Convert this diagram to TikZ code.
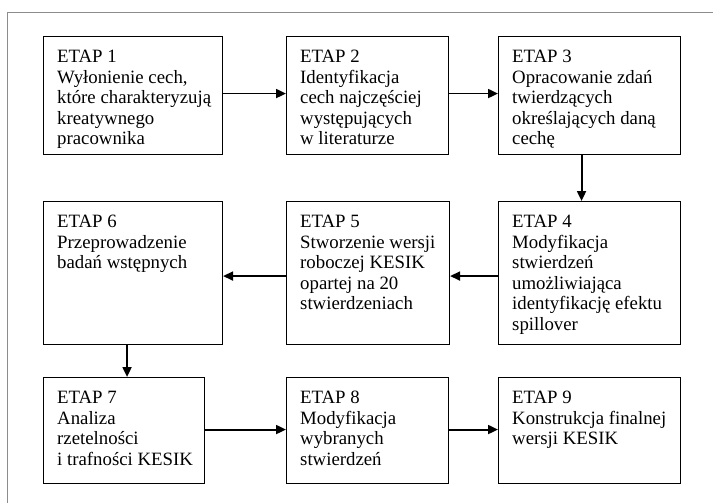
\documentclass[tikz,border=0pt]{standalone}
\usepackage{fontspec}
\setmainfont{Liberation Serif}
\usetikzlibrary{arrows.meta}

\begin{document}
\begin{tikzpicture}[x=1pt,y=-1pt,
    etap/.style={draw, line width=1.1pt, anchor=north west, inner sep=0pt},
    etaptxt/.style={anchor=north west, align=left, inner xsep=14pt, inner ysep=14pt,
        font=\fontsize{18.8}{20.5}\selectfont},
    strzalka/.style={-{Triangle[length=10pt,width=9pt]}, line width=1.9pt}]
    \useasboundingbox (0,0) rectangle (713,503);
    % ramka
    \draw[gray!90, line width=0.9pt] (7,503) -- (7,12) -- (713,12);
    % pierwszy rzad
    \node[etap, minimum width=179pt, minimum height=118pt,
        label={[etaptxt]north west:{ETAP 1\\Wyłonienie cech,\\które charakteryzują\\kreatywnego\\pracownika}}] (e1) at (43,36) {};
    \node[etap, minimum width=162pt, minimum height=118pt,
        label={[etaptxt]north west:{ETAP 2\\Identyfikacja\\cech najczęściej\\występujących\\w literaturze}}] (e2) at (286,36) {};
    \node[etap, minimum width=182pt, minimum height=118pt,
        label={[etaptxt]north west:{ETAP 3\\Opracowanie zdań\\twierdzących\\określających daną\\cechę}}] (e3) at (498,36) {};
    % drugi rzad
    \node[etap, minimum width=182pt, minimum height=143pt,
        label={[etaptxt]north west:{ETAP 4\\Modyfikacja\\stwierdzeń\\umożliwiająca\\identyfikację efektu\\spillover}}] (e4) at (498,201) {};
    \node[etap, minimum width=163pt, minimum height=143pt,
        label={[etaptxt]north west:{ETAP 5\\Stworzenie wersji\\roboczej KESIK\\opartej na 20\\stwierdzeniach}}] (e5) at (286,201) {};
    \node[etap, minimum width=179pt, minimum height=143pt,
        label={[etaptxt]north west:{ETAP 6\\Przeprowadzenie\\badań wstępnych}}] (e6) at (43,201) {};
    % trzeci rzad
    \node[etap, minimum width=161pt, minimum height=106pt,
        label={[etaptxt]north west:{ETAP 7\\Analiza\\rzetelności\\i trafności KESIK}}] (e7) at (43,377) {};
    \node[etap, minimum width=162pt, minimum height=106pt,
        label={[etaptxt]north west:{ETAP 8\\Modyfikacja\\wybranych\\stwierdzeń}}] (e8) at (286,377) {};
    \node[etap, minimum width=182pt, minimum height=106pt,
        label={[etaptxt]north west:{ETAP 9\\Konstrukcja finalnej\\wersji KESIK}}] (e9) at (498,377) {};
    % strzalki
    \draw[strzalka] ([yshift=2pt]e1.east) -- ([yshift=2pt]e1.east -| e2.west);
    \draw[strzalka] ([yshift=2pt]e2.east) -- ([yshift=2pt]e2.east -| e3.west);
    \draw[strzalka] ([xshift=-8pt]e3.south) -- ([xshift=-8pt]e3.south |- e4.north);
    \draw[strzalka] ([yshift=-3pt]e4.west) -- ([yshift=-3pt]e4.west -| e5.east);
    \draw[strzalka] ([yshift=-3pt]e5.west) -- ([yshift=-3pt]e5.west -| e6.east);
    \draw[strzalka] ([xshift=-6pt]e6.south) -- ([xshift=-6pt]e6.south |- e7.north);
    \draw[strzalka] ([yshift=1pt]e7.east) -- ([yshift=1pt]e7.east -| e8.west);
    \draw[strzalka] ([yshift=1pt]e8.east) -- ([yshift=1pt]e8.east -| e9.west);
\end{tikzpicture}
\end{document}
